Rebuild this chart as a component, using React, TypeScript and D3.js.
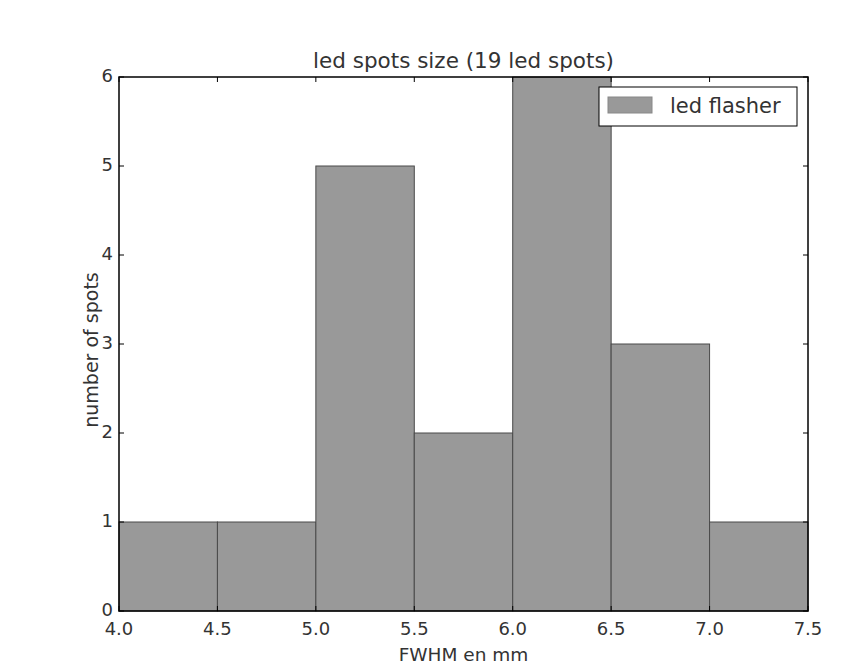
import React from "react";
import * as d3 from "d3";

const binStarts = [4.0, 4.5, 5.0, 5.5, 6.0, 6.5, 7.0];
const binWidth = 0.5;
const counts = [1, 1, 5, 2, 6, 3, 1];
const xTicks = [4.0, 4.5, 5.0, 5.5, 6.0, 6.5, 7.0, 7.5];
const yTicks = [0, 1, 2, 3, 4, 5, 6];
const title = "led spots size (19 led spots)";
const xLabel = "FWHM en mm";
const yLabel = "number of spots";
const legendLabel = "led flasher";

export default function App() {
  const W = 852, H = 671;
  const L = 119, R = 808, T = 77, B = 611;
  const x = d3.scaleLinear().domain([4.0, 7.5]).range([L, R]);
  const y = d3.scaleLinear().domain([0, 6]).range([B, T]);
  const font = "DejaVu Sans, sans-serif";
  const tl = 5;
  const tickFs = 18;
  return (
    <svg width={W} height={H} style={{ position: "absolute", left: 0, top: 0, background: "#fff" }}>
      <rect x={0} y={0} width={W} height={H} fill="#fff" />
      <rect x={L} y={T} width={R - L} height={B - T} fill="#fff" />
      {binStarts.map((s, i) => (
        <rect key={i} x={x(s)} y={y(counts[i])} width={x(s + binWidth) - x(s)} height={B - y(counts[i])}
          fill="#999999" stroke="#4a4a4a" strokeWidth={1} />
      ))}
      {xTicks.map((t, i) => (
        <g key={"x" + i}>
          <line x1={x(t)} x2={x(t)} y1={B} y2={B - tl} stroke="#000" />
          <line x1={x(t)} x2={x(t)} y1={T} y2={T + tl} stroke="#000" />
          <text x={x(t)} y={635} textAnchor="middle" fontFamily={font} fontSize={tickFs} fill="#333">{t.toFixed(1)}</text>
        </g>
      ))}
      {yTicks.map((t, i) => (
        <g key={"y" + i}>
          <line x1={L} x2={L + tl} y1={y(t)} y2={y(t)} stroke="#000" />
          <line x1={R} x2={R - tl} y1={y(t)} y2={y(t)} stroke="#000" />
          <text x={113} y={y(t) + 5} textAnchor="end" fontFamily={font} fontSize={tickFs} fill="#333">{t}</text>
        </g>
      ))}
      <rect x={L} y={T} width={R - L} height={B - T} fill="none" stroke="#000" strokeWidth={1.5} />
      <text x={(L + R) / 2} y={68} textAnchor="middle" fontFamily={font} fontSize={21.5} fill="#333">{title}</text>
      <text x={(L + R) / 2} y={661} textAnchor="middle" fontFamily={font} fontSize={18.5} fill="#333">{xLabel}</text>
      <text transform={`translate(98,${(T + B) / 2 + 6}) rotate(-90)`} textAnchor="middle" fontFamily={font} fontSize={19} fill="#333">{yLabel}</text>
      <g>
        <rect x={599} y={87} width={198} height={39} fill="#fff" stroke="#000" strokeWidth={1} />
        <rect x={608} y={97} width={44} height={16} fill="#999999" stroke="#888" />
        <text x={670} y={113} fontFamily={font} fontSize={21} fill="#333">{legendLabel}</text>
      </g>
    </svg>
  );
}
